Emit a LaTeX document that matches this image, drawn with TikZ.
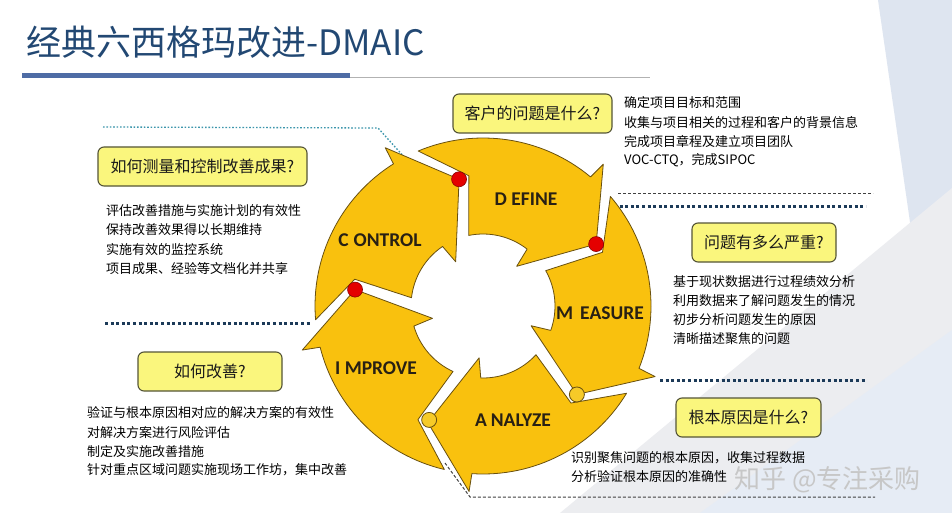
\documentclass[tikz,border=0pt]{standalone}
\usepackage{fontspec}
\setmainfont{Noto Sans CJK SC}
\newfontfamily\labfont{Carlito}
\definecolor{segfill}{RGB}{249,193,14}
\definecolor{segline}{RGB}{105,80,15}
\definecolor{boxfill}{RGB}{250,246,125}
\definecolor{boxline}{RGB}{85,85,55}
\definecolor{titleblue}{RGB}{34,72,115}
\definecolor{barblue}{RGB}{78,108,165}
\definecolor{navydot}{RGB}{28,58,88}
\definecolor{tealdot}{RGB}{60,150,172}
\definecolor{dotred}{RGB}{228,0,0}
\definecolor{dotyel}{RGB}{246,202,40}
\definecolor{labcol}{RGB}{40,32,20}
\definecolor{panelblue}{RGB}{222,229,240}
\definecolor{panelgray}{RGB}{236,237,240}
\definecolor{panelblue2}{RGB}{230,236,245}
\newcommand\dmaicseg[1]{%
  \draw[seg] ({#1}:129) -- ({#1+21}:186) -- ({#1+21.5}:168)
    arc[start angle={#1+21.5}, end angle={#1+84}, radius=168]
    -- ({#1+67.5}:131) -- ({#1+72.7}:72)
    arc[start angle={#1+72.7}, end angle={#1+23.5}, radius=72]
    -- ({#1+21}:52) -- cycle;}
\begin{document}
\begin{tikzpicture}[x=1pt,y=-1pt,
  seg/.style={fill=segfill, draw=segline, line width=0.8pt, line join=round},
  qbox/.style={draw=boxline, fill=boxfill, rounded corners=6pt, line width=1.1pt,
    minimum height=39pt, inner sep=0pt, font=\fontsize{16}{18}\selectfont, text=black!90},
  item/.style={anchor=west, inner sep=0pt, font=\fontsize{13}{15}\selectfont, text=black},
  seglab/.style={font=\labfont\bfseries\fontsize{19.5}{21}\selectfont, text=labcol, inner sep=0pt},
  heavydot/.style={draw=navydot, line width=3pt, dash pattern=on 3pt off 2.6pt},
  finedash/.style={draw=black!75, line width=1pt, dash pattern=on 3pt off 2pt},
  tealdots/.style={draw=tealdot, line width=1.3pt, dash pattern=on 1.6pt off 1.8pt},
  reddot/.style={circle, fill=dotred, draw=red!55!black, line width=0.6pt, minimum size=15pt, inner sep=0pt},
  yeldot/.style={circle, fill=dotyel, draw=segline, line width=0.8pt, minimum size=15pt, inner sep=0pt}
]
\useasboundingbox (0,0) rectangle (952,513);
\fill[white] (0,0) rectangle (952,513);
% background panels
\fill[panelblue] (878,0) -- (952,0) -- (952,215) -- (912,236) -- cycle;
\fill[panelgray] (560,513) -- (952,188) -- (952,513) -- cycle;
\fill[panelblue2] (700,513) -- (952,330) -- (952,513) -- cycle;
% title
\node[anchor=west, inner sep=0pt, text=titleblue, font=\fontsize{35}{38}\selectfont] (title) at (26,42) {经典六西格玛改进-DMAIC};
\fill[barblue] (22,73.5) rectangle (350,78);
\draw[gray!60, line width=0.8pt] (350,77.2) -- (650,77.2);
% guide lines
\coordinate (t1) at (103,127); \coordinate (t2) at (378,128); \coordinate (t3) at (414,168);
\draw[tealdots] (t1) -- (t2) -- (t3);
\coordinate (f1) at (618,193); \coordinate (f2) at (873,193);
\draw[finedash] (f1) -- (f2);
\coordinate (h1) at (614,206); \coordinate (h2) at (866,206);
\draw[heavydot] (h1) -- (h2);
\coordinate (h3) at (105,323); \coordinate (h4) at (312,323);
\draw[heavydot] (h3) -- (h4);
\coordinate (h5) at (660,380); \coordinate (h6) at (866,380);
\draw[heavydot] (h5) -- (h6);
\coordinate (b1) at (445,463); \coordinate (b2) at (470,497); \coordinate (b3) at (875,497);
\draw[finedash] (b1) -- (b2) -- (b3);
% cycle
\begin{scope}[shift={(483,306)}, y=1pt]
  \dmaicseg{100.7}
  \dmaicseg{28.7}
  \dmaicseg{-43.3}
  \dmaicseg{-115.3}
  \dmaicseg{-187.3}
  \node[reddot] (dC) at (100.7:129) {};
  \node[reddot] (dD) at (28.7:129) {};
  \node[yeldot] (dM) at (-43.3:129) {};
  \node[yeldot] (dA) at (-115.3:126) {};
  \node[reddot] (dI) at (-187.3:129) {};
\end{scope}
\node[seglab] (lC) at (380,240) {C\hspace{5pt}ONTROL};
\node[seglab] (lD) at (526,199) {D EFINE};
\node[seglab] (lM) at (600,313) {M\hspace{7pt}EASURE};
\node[seglab] (lA) at (513,420) {A\hspace{4pt}NALYZE};
\node[seglab] (lI) at (376,368) {I MPROVE};
% question boxes
\node[qbox, minimum width=159pt] (qD) at (532.5,113.5) {客户的问题是什么?};
\node[qbox, minimum width=209pt] (qC) at (202.5,166.5) {如何测量和控制改善成果?};
\node[qbox, minimum width=144pt] (qM) at (764,242.5) {问题有多么严重?};
\node[qbox, minimum width=145pt] (qA) at (748.5,417.5) {根本原因是什么?};
\node[qbox, minimum width=144pt] (qI) at (210,371.5) {如何改善?};
% D items
\node[item] (d1) at (624,103) {确定项目目标和范围};
\node[item] (d2) at (624,123) {收集与项目相关的过程和客户的背景信息};
\node[item] (d3) at (624,142) {完成项目章程及建立项目团队};
\node[item] (d4) at (624,160) {VOC-CTQ，完成SIPOC};
% C items
\node[item] (c1) at (106,211) {评估改善措施与实施计划的有效性};
\node[item] (c2) at (106,230) {保持改善效果得以长期维持};
\node[item] (c3) at (106,250) {实施有效的监控系统};
\node[item] (c4) at (106,269) {项目成果、经验等文档化并共享};
% M items
\node[item] (m1) at (673,282) {基于现状数据进行过程绩效分析};
\node[item] (m2) at (673,301) {利用数据来了解问题发生的情况};
\node[item] (m3) at (673,320) {初步分析问题发生的原因};
\node[item] (m4) at (673,339) {清晰描述聚焦的问题};
% I items
\node[item] (i1) at (87,413) {验证与根本原因相对应的解决方案的有效性};
\node[item] (i2) at (87,433) {对解决方案进行风险评估};
\node[item] (i3) at (87,452) {制定及实施改善措施};
\node[item] (i4) at (87,470) {针对重点区域问题实施现场工作坊，集中改善};
% A items
\node[item] (a1) at (571,458) {识别聚焦问题的根本原因，收集过程数据};
\node[item] (a2) at (571,477) {分析验证根本原因的准确性};
% watermark
\node[anchor=west, inner sep=0pt, text=black!22, font=\fontsize{26}{28}\selectfont] (wm) at (734,480) {知乎 @专注采购};
\end{tikzpicture}
\end{document}
